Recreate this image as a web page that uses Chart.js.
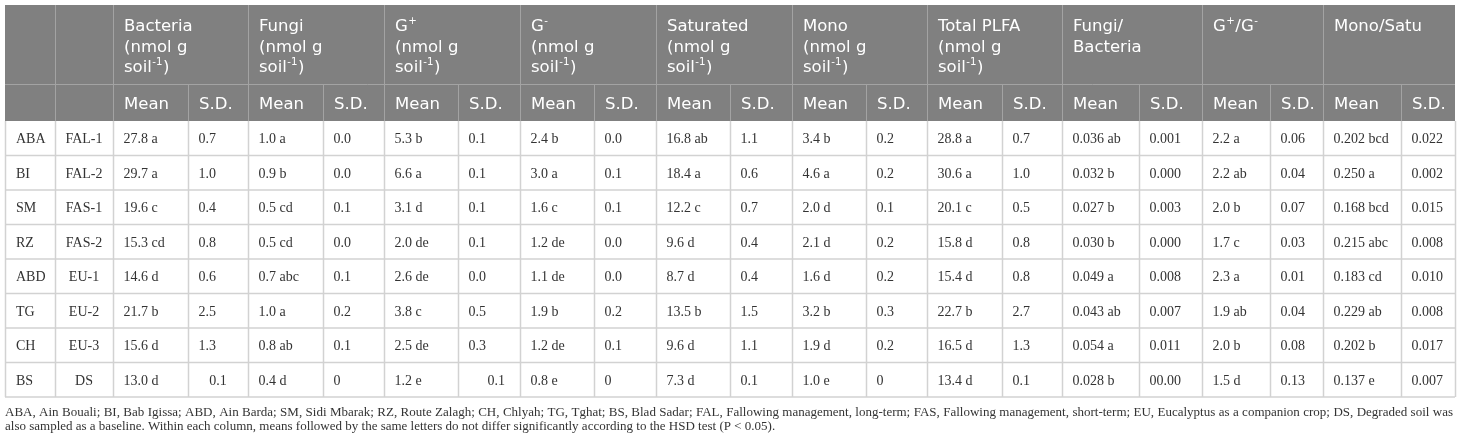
<!DOCTYPE html>
<html>
<head>
<meta charset="utf-8">
<script src="https://cdn.jsdelivr.net/npm/chart.js@4.4.1/dist/chart.umd.min.js"></script>
<style>
  html, body { margin: 0; padding: 0; background: #fff; }
  canvas { display: block; }
</style>
</head>
<body>
<canvas id="tbl" width="1460" height="442"></canvas>
<script>
// table values, one array per column
const sites = ['ABA', 'BI', 'SM', 'RZ', 'ABD', 'TG', 'CH', 'BS'];
const treatments = ['FAL-1', 'FAL-2', 'FAS-1', 'FAS-2', 'EU-1', 'EU-2', 'EU-3', 'DS'];
const bacteriaMean = ['27.8 a', '29.7 a', '19.6 c', '15.3 cd', '14.6 d', '21.7 b', '15.6 d', '13.0 d'];
const bacteriaSD = ['0.7', '1.0', '0.4', '0.8', '0.6', '2.5', '1.3', '0.1'];
const fungiMean = ['1.0 a', '0.9 b', '0.5 cd', '0.5 cd', '0.7 abc', '1.0 a', '0.8 ab', '0.4 d'];
const fungiSD = ['0.0', '0.0', '0.1', '0.0', '0.1', '0.2', '0.1', '0'];
const gPosMean = ['5.3 b', '6.6 a', '3.1 d', '2.0 de', '2.6 de', '3.8 c', '2.5 de', '1.2 e'];
const gPosSD = ['0.1', '0.1', '0.1', '0.1', '0.0', '0.5', '0.3', '0.1'];
const gNegMean = ['2.4 b', '3.0 a', '1.6 c', '1.2 de', '1.1 de', '1.9 b', '1.2 de', '0.8 e'];
const gNegSD = ['0.0', '0.1', '0.1', '0.0', '0.0', '0.2', '0.1', '0'];
const saturatedMean = ['16.8 ab', '18.4 a', '12.2 c', '9.6 d', '8.7 d', '13.5 b', '9.6 d', '7.3 d'];
const saturatedSD = ['1.1', '0.6', '0.7', '0.4', '0.4', '1.5', '1.1', '0.1'];
const monoMean = ['3.4 b', '4.6 a', '2.0 d', '2.1 d', '1.6 d', '3.2 b', '1.9 d', '1.0 e'];
const monoSD = ['0.2', '0.2', '0.1', '0.2', '0.2', '0.3', '0.2', '0'];
const plfaMean = ['28.8 a', '30.6 a', '20.1 c', '15.8 d', '15.4 d', '22.7 b', '16.5 d', '13.4 d'];
const plfaSD = ['0.7', '1.0', '0.5', '0.8', '0.8', '2.7', '1.3', '0.1'];
const fbMean = ['0.036 ab', '0.032 b', '0.027 b', '0.030 b', '0.049 a', '0.043 ab', '0.054 a', '0.028 b'];
const fbSD = ['0.001', '0.000', '0.003', '0.000', '0.008', '0.007', '0.011', '00.00'];
const gRatioMean = ['2.2 a', '2.2 ab', '2.0 b', '1.7 c', '2.3 a', '1.9 ab', '2.0 b', '1.5 d'];
const gRatioSD = ['0.06', '0.04', '0.07', '0.03', '0.01', '0.04', '0.08', '0.13'];
const msMean = ['0.202 bcd', '0.250 a', '0.168 bcd', '0.215 abc', '0.183 cd', '0.229 ab', '0.202 b', '0.137 e'];
const msSD = ['0.022', '0.002', '0.015', '0.008', '0.010', '0.008', '0.017', '0.007'];

// header labels, {..} = superscript
const groupTitles = [
  ['Bacteria', '(nmol g', 'soil{-1})'],
  ['Fungi', '(nmol g', 'soil{-1})'],
  ['G{+}', '(nmol g', 'soil{-1})'],
  ['G{-}', '(nmol g', 'soil{-1})'],
  ['Saturated', '(nmol g', 'soil{-1})'],
  ['Mono', '(nmol g', 'soil{-1})'],
  ['Total PLFA', '(nmol g', 'soil{-1})'],
  ['Fungi/', 'Bacteria'],
  ['G{+}/G{-}'],
  ['Mono/Satu']
];
const subTitles = ['Mean', 'S.D.'];

const footnote = [
  'ABA, Ain Bouali; BI, Bab Igissa; ABD, Ain Barda; SM, Sidi Mbarak; RZ, Route Zalagh; CH, Chlyah; TG, Tghat; BS, Blad Sadar; FAL, Fallowing management, long-term; FAS, Fallowing management, short-term; EU, Eucalyptus as a companion crop; DS, Degraded soil was',
  'also sampled as a baseline. Within each column, means followed by the same letters do not differ significantly according to the HSD test (P < 0.05).'
];

const columns = [sites, treatments,
  bacteriaMean, bacteriaSD, fungiMean, fungiSD, gPosMean, gPosSD, gNegMean, gNegSD,
  saturatedMean, saturatedSD, monoMean, monoSD, plfaMean, plfaSD,
  fbMean, fbSD, gRatioMean, gRatioSD, msMean, msSD];

// layout (pixel units on the x / y scales)
const colEdges = [5, 55, 113, 188, 248, 323, 384, 458, 520, 594, 656, 730, 792, 866, 927, 1002, 1062, 1139, 1202, 1270, 1323, 1401, 1455];
const headTop = 5, headMid = 84, headBottom = 121;
const rowH = 34.5;
const nRows = sites.length;
const tableBottom = headBottom + rowH * nRows;

const headFill = '#808080';
const headLine = '#a3a3a3';
const bodyLine = '#d2d2d2';
const bodyText = '#333333';
const headFont = '"DejaVu Sans", sans-serif';
const bodyFont = '"Liberation Serif", "Times New Roman", serif';

// one scatter point per body cell, placed at the cell centre
const points = [];
const texts = [];
const aligns = [];
columns.forEach((col, c) => {
  col.forEach((txt, r) => {
    points.push({x: (colEdges[c] + colEdges[c + 1]) / 2, y: headBottom + rowH * (r + 0.5)});
    texts.push(txt);
    let a = c === 0 ? 'left' : (c === 1 ? 'center' : 'left');
    if (r === nRows - 1 && c === 3) a = 'center';
    if (r === nRows - 1 && c === 7) a = 'right';
    aligns.push({a: a, c: c});
  });
});

function drawRich(ctx, str, x, y, size, family) {
  // draws text with {..} superscripts, left aligned at x
  const parts = str.split(/(\{[^}]*\})/).filter(s => s.length);
  let cx = x;
  parts.forEach(p => {
    if (p[0] === '{') {
      const s = p.slice(1, -1);
      ctx.font = (size * 0.62) + 'px ' + family;
      ctx.fillText(s, cx + 0.5, y - size * 0.42);
      cx += ctx.measureText(s).width + 1;
    } else {
      ctx.font = size + 'px ' + family;
      ctx.fillText(p, cx, y);
      cx += ctx.measureText(p).width;
    }
  });
}

const tablePlugin = {
  id: 'tablePlugin',
  beforeDatasetsDraw(chart) {
    const ctx = chart.ctx;
    const xs = chart.scales.x, ys = chart.scales.y;
    const px = v => xs.getPixelForValue(v);
    const py = v => ys.getPixelForValue(v);
    ctx.save();
    // header block
    ctx.fillStyle = headFill;
    ctx.fillRect(px(colEdges[0]), py(headTop), px(colEdges[colEdges.length - 1]) - px(colEdges[0]), py(headBottom) - py(headTop));
    ctx.strokeStyle = headLine;
    ctx.lineWidth = 1;
    ctx.beginPath();
    ctx.moveTo(px(colEdges[0]), py(headMid) + 0.5);
    ctx.lineTo(px(colEdges[colEdges.length - 1]), py(headMid) + 0.5);
    colEdges.forEach((e, i) => {
      if (i === 0 || i === colEdges.length - 1) return;
      const group = i <= 2 || i % 2 === 0;
      ctx.moveTo(Math.round(px(e)) + 0.5, group ? py(headTop) : py(headMid));
      ctx.lineTo(Math.round(px(e)) + 0.5, py(headBottom));
    });
    ctx.stroke();

    // body grid
    ctx.strokeStyle = bodyLine;
    ctx.lineWidth = 1.5;
    ctx.beginPath();
    for (let r = 1; r <= nRows; r++) {
      const y = py(headBottom + rowH * r);
      ctx.moveTo(px(colEdges[0]), y);
      ctx.lineTo(px(colEdges[colEdges.length - 1]), y);
    }
    colEdges.forEach(e => {
      ctx.moveTo(Math.round(px(e)) + 0.5, py(headBottom));
      ctx.lineTo(Math.round(px(e)) + 0.5, py(tableBottom));
    });
    ctx.stroke();

    // header text
    ctx.fillStyle = '#ffffff';
    ctx.textAlign = 'left';
    ctx.textBaseline = 'alphabetic';
    groupTitles.forEach((lines, g) => {
      const x0 = px(colEdges[2 + g * 2]) + 11;
      lines.forEach((ln, k) => {
        drawRich(ctx, ln, x0, py(headTop + 26 + k * 20.5), 16.5, headFont);
      });
      subTitles.forEach((s, k) => {
        ctx.font = '16.5px ' + headFont;
        ctx.fillText(s, px(colEdges[2 + g * 2 + k]) + 11, py(headMid + 25));
      });
    });

    // footnote, first line justified
    ctx.fillStyle = bodyText;
    ctx.font = '13px ' + bodyFont;
    const words = footnote[0].split(' ');
    const full = px(1453) - px(colEdges[0]);
    const natural = words.reduce((s, w) => s + ctx.measureText(w).width, 0);
    const gap = (full - natural) / (words.length - 1);
    let fx = px(colEdges[0]);
    words.forEach(w => {
      ctx.fillText(w, fx, py(415.5));
      fx += ctx.measureText(w).width + gap;
    });
    ctx.fillText(footnote[1], px(colEdges[0]), py(430));
    ctx.restore();
  },
  afterDatasetsDraw(chart) {
    const ctx = chart.ctx;
    const xs = chart.scales.x;
    const meta = chart.getDatasetMeta(0);
    ctx.save();
    ctx.fillStyle = bodyText;
    ctx.font = '14px ' + bodyFont;
    ctx.textBaseline = 'alphabetic';
    meta.data.forEach((el, i) => {
      const al = aligns[i];
      let x = el.x;
      if (al.a === 'left') x = xs.getPixelForValue(colEdges[al.c]) + (al.c < 2 ? 11 : 10.5);
      if (al.a === 'right') x = xs.getPixelForValue(colEdges[al.c + 1]) - 15;
      ctx.textAlign = al.a;
      ctx.fillText(texts[i], x, el.y + 5);
    });
    ctx.restore();
  }
};

new Chart(document.getElementById('tbl'), {
  type: 'scatter',
  data: {
    datasets: [{
      data: points,
      pointRadius: 0,
      pointHoverRadius: 0,
      showLine: false
    }]
  },
  options: {
    responsive: false,
    animation: false,
    events: [],
    layout: { padding: 0 },
    plugins: { legend: { display: false }, tooltip: { enabled: false } },
    scales: {
      x: { type: 'linear', min: 0, max: 1460, display: false },
      y: { type: 'linear', min: 0, max: 442, reverse: true, display: false }
    }
  },
  plugins: [tablePlugin]
});
</script>
</body>
</html>
